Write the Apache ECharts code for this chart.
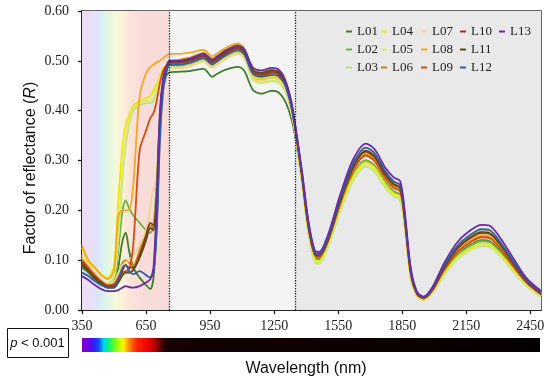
<!DOCTYPE html>
<html><head><meta charset="utf-8">
<script src="https://cdn.jsdelivr.net/npm/echarts@6/dist/echarts.min.js"></script>
<style>html,body{margin:0;padding:0;background:#fff}#c{width:550px;height:380px}</style>
</head><body><div id="c"></div>
<script>
const wavelengths = [350,380,410,440,470,500,520,540,555,570,590,620,650,670,685,700,715,730,745,760,
 800,860,920,960,980,1020,1080,1110,1150,1190,1240,1270,1300,1330,1350,
 1380,1410,1440,1460,1500,1560,1620,1680,1720,1770,1810,1840,1860,
 1890,1920,1950,1990,2050,2110,2170,2220,2260,2310,2370,2430,2500];
const seriesNames = ['L01','L02','L03','L04','L05','L06','L07','L08','L09','L10','L11','L12','L13'];
const seriesColors = ['#3f7d2a','#6fb33e','#b8e27e','#f2e600','#d6ea6e','#c98512','#f1d48e','#f5a623','#d84a12','#8a3a1c','#5d4a14','#2f5fa6','#6b2aa6'];

const L01 = [0.085,0.075,0.062,0.052,0.045,0.048,0.085,0.14,0.155,0.12,0.085,0.065,0.05,0.042,0.065,0.17,0.35,0.44,0.47,0.477,
 0.478,0.480,0.484,0.468,0.473,0.482,0.488,0.480,0.442,0.434,0.440,0.437,0.420,0.385,0.345,
 0.262,0.162,0.105,0.102,0.132,0.208,0.271,0.300,0.290,0.257,0.238,0.231,0.181,
 0.069,0.029,0.022,0.037,0.079,0.112,0.131,0.140,0.138,0.118,0.085,0.053,0.029];
const L02 = [0.09,0.078,0.065,0.055,0.048,0.055,0.12,0.2,0.22,0.205,0.19,0.175,0.16,0.155,0.17,0.26,0.38,0.45,0.48,0.49,
 0.490,0.495,0.503,0.491,0.496,0.508,0.518,0.510,0.468,0.462,0.466,0.463,0.446,0.404,0.356,
 0.264,0.162,0.104,0.101,0.131,0.207,0.271,0.300,0.290,0.257,0.238,0.231,0.181,
 0.068,0.029,0.022,0.036,0.078,0.111,0.129,0.138,0.136,0.116,0.084,0.053,0.029];
const L03 = [0.10,0.085,0.07,0.058,0.052,0.065,0.14,0.27,0.33,0.37,0.40,0.41,0.415,0.415,0.42,0.44,0.465,0.48,0.486,0.487,
 0.487,0.492,0.500,0.488,0.493,0.505,0.515,0.506,0.463,0.456,0.460,0.457,0.441,0.399,0.352,
 0.258,0.155,0.096,0.093,0.124,0.198,0.260,0.288,0.278,0.246,0.228,0.221,0.173,
 0.063,0.027,0.020,0.034,0.072,0.103,0.120,0.128,0.126,0.108,0.077,0.049,0.027];
const L04 = [0.125,0.095,0.085,0.072,0.065,0.09,0.22,0.33,0.37,0.39,0.41,0.42,0.425,0.43,0.44,0.455,0.47,0.485,0.49,0.492,
 0.492,0.497,0.504,0.492,0.497,0.509,0.519,0.511,0.470,0.464,0.469,0.466,0.449,0.406,0.356,
 0.262,0.160,0.102,0.098,0.128,0.204,0.267,0.296,0.286,0.253,0.234,0.228,0.178,
 0.066,0.028,0.021,0.035,0.075,0.107,0.124,0.133,0.131,0.112,0.081,0.051,0.028];
const L05 = [0.105,0.088,0.072,0.06,0.055,0.07,0.15,0.28,0.34,0.375,0.405,0.415,0.42,0.42,0.425,0.445,0.47,0.482,0.486,0.487,
 0.486,0.491,0.499,0.487,0.492,0.504,0.514,0.505,0.462,0.455,0.459,0.456,0.440,0.398,0.352,
 0.260,0.157,0.098,0.095,0.125,0.200,0.262,0.290,0.280,0.248,0.229,0.223,0.174,
 0.064,0.027,0.021,0.034,0.074,0.104,0.121,0.130,0.128,0.109,0.079,0.050,0.027];
const L06 = [0.10,0.085,0.07,0.058,0.05,0.05,0.07,0.095,0.10,0.095,0.09,0.12,0.155,0.17,0.165,0.25,0.39,0.46,0.485,0.50,
 0.502,0.507,0.516,0.504,0.509,0.521,0.532,0.524,0.483,0.477,0.482,0.479,0.460,0.415,0.364,
 0.268,0.168,0.110,0.107,0.136,0.215,0.281,0.312,0.301,0.266,0.247,0.240,0.188,
 0.073,0.031,0.024,0.039,0.084,0.119,0.139,0.149,0.147,0.125,0.090,0.057,0.031];
const L07 = [0.11,0.09,0.075,0.06,0.052,0.055,0.075,0.09,0.095,0.10,0.11,0.13,0.16,0.21,0.245,0.25,0.33,0.44,0.475,0.485,
 0.485,0.490,0.498,0.486,0.491,0.503,0.514,0.506,0.466,0.460,0.465,0.462,0.445,0.402,0.355,
 0.275,0.175,0.115,0.111,0.142,0.224,0.293,0.325,0.314,0.278,0.257,0.250,0.196,
 0.078,0.033,0.025,0.042,0.089,0.127,0.148,0.158,0.156,0.133,0.096,0.060,0.033];
const L08 = [0.13,0.10,0.085,0.07,0.062,0.08,0.19,0.20,0.20,0.20,0.25,0.43,0.475,0.488,0.492,0.497,0.50,0.505,0.51,0.514,
 0.514,0.517,0.522,0.509,0.514,0.525,0.535,0.526,0.482,0.475,0.479,0.476,0.457,0.412,0.362,
 0.270,0.170,0.112,0.108,0.138,0.218,0.285,0.315,0.305,0.270,0.250,0.243,0.190,
 0.074,0.032,0.024,0.040,0.085,0.120,0.140,0.150,0.148,0.126,0.091,0.057,0.032];
const L09 = [0.10,0.085,0.07,0.058,0.05,0.052,0.065,0.075,0.078,0.08,0.13,0.32,0.36,0.385,0.395,0.42,0.455,0.48,0.49,0.495,
 0.495,0.500,0.508,0.496,0.501,0.513,0.524,0.516,0.476,0.470,0.475,0.472,0.454,0.410,0.360,
 0.268,0.167,0.110,0.106,0.135,0.214,0.280,0.310,0.299,0.265,0.245,0.238,0.186,
 0.072,0.031,0.023,0.038,0.083,0.117,0.136,0.146,0.144,0.123,0.088,0.056,0.031];
const L10 = [0.095,0.08,0.066,0.055,0.048,0.048,0.06,0.08,0.09,0.085,0.085,0.11,0.15,0.175,0.17,0.23,0.38,0.46,0.485,0.497,
 0.497,0.502,0.510,0.498,0.503,0.515,0.526,0.518,0.479,0.473,0.478,0.475,0.457,0.413,0.363,
 0.273,0.172,0.114,0.110,0.140,0.221,0.289,0.320,0.309,0.274,0.253,0.246,0.193,
 0.076,0.033,0.025,0.041,0.088,0.124,0.145,0.155,0.153,0.131,0.094,0.059,0.033];
const L11 = [0.09,0.078,0.064,0.052,0.045,0.045,0.055,0.07,0.075,0.075,0.08,0.105,0.14,0.165,0.16,0.22,0.37,0.455,0.485,0.499,
 0.499,0.504,0.513,0.501,0.506,0.518,0.529,0.521,0.482,0.476,0.481,0.478,0.460,0.416,0.365,
 0.272,0.171,0.113,0.109,0.139,0.219,0.287,0.318,0.307,0.272,0.252,0.245,0.192,
 0.077,0.033,0.025,0.041,0.088,0.125,0.146,0.156,0.154,0.131,0.094,0.060,0.034];
const L12 = [0.075,0.068,0.058,0.05,0.045,0.045,0.06,0.085,0.09,0.078,0.072,0.078,0.07,0.065,0.075,0.16,0.34,0.44,0.475,0.492,
 0.492,0.497,0.505,0.493,0.498,0.510,0.521,0.513,0.474,0.468,0.472,0.469,0.452,0.409,0.360,
 0.276,0.176,0.116,0.112,0.143,0.225,0.294,0.326,0.315,0.279,0.258,0.251,0.197,
 0.080,0.034,0.026,0.043,0.092,0.130,0.151,0.162,0.160,0.136,0.098,0.062,0.035];
const L13 = [0.068,0.06,0.05,0.042,0.038,0.038,0.04,0.045,0.048,0.046,0.045,0.048,0.055,0.062,0.085,0.22,0.40,0.465,0.49,0.50,
 0.500,0.505,0.514,0.502,0.507,0.520,0.530,0.523,0.487,0.481,0.486,0.483,0.464,0.420,0.368,
 0.280,0.180,0.120,0.116,0.148,0.232,0.302,0.334,0.323,0.286,0.266,0.259,0.205,
 0.084,0.036,0.027,0.045,0.097,0.137,0.160,0.171,0.169,0.144,0.104,0.065,0.038];
const seriesValues = [L01,L02,L03,L04,L05,L06,L07,L08,L09,L10,L11,L12,L13];

const xTickLabels = [350,650,950,1250,1550,1850,2150,2450];
const yTickLabels = [0,0.1,0.2,0.3,0.4,0.5,0.6];
const regionBounds = [350,760,1350,2500];

const chart = echarts.init(document.getElementById('c'), null, {renderer:'canvas'});
const serif = 'Liberation Serif, Times New Roman, serif';
const sans = 'Liberation Sans, Arial, sans-serif';

const lineSeries = seriesNames.map((n,i)=>({
  name:n, type:'line', xAxisIndex:0, yAxisIndex:0,
  data: wavelengths.map((w,k)=>[w, seriesValues[i][k]]),
  showSymbol:false, symbol:'none', smooth:0.3,
  lineStyle:{width:1.8, color:seriesColors[i]}, itemStyle:{color:seriesColors[i]},
  z:3, silent:true
}));

const visGradient = {type:'linear',x:0,y:0,x2:1,y2:0,colorStops:[
  {offset:0,color:'#f0dcf0'},{offset:0.1,color:'#e8dff7'},{offset:0.18,color:'#dde5fa'},
  {offset:0.24,color:'#d9f2f4'},{offset:0.3,color:'#e3f6e2'},{offset:0.38,color:'#f2f8da'},
  {offset:0.45,color:'#fcf3d9'},{offset:0.55,color:'#fbe4da'},{offset:0.67,color:'#f9dcd9'},{offset:1,color:'#f7dcda'}]};

const bgSeries = {
  type:'line', name:'bg', data:[], xAxisIndex:0, yAxisIndex:0, z:1, silent:true,
  markArea:{silent:true, data:[
    [{xAxis:regionBounds[0], itemStyle:{color:visGradient}},{xAxis:regionBounds[1]}],
    [{xAxis:regionBounds[1], itemStyle:{color:'#f3f4f3'}},{xAxis:regionBounds[2]}],
    [{xAxis:regionBounds[2], itemStyle:{color:'#e8e9e8'}},{xAxis:regionBounds[3]}]
  ]},
  markLine:{silent:true, symbol:'none', label:{show:false},
    lineStyle:{type:'dotted', color:'#222', width:1.3},
    data:[{xAxis:regionBounds[1]},{xAxis:regionBounds[2]}]}
};

const specStops = [
  {offset:0,color:'#8000c8'},{offset:0.014,color:'#6a00e8'},{offset:0.026,color:'#2a20ff'},
  {offset:0.037,color:'#1050ff'},{offset:0.047,color:'#00d0ff'},{offset:0.056,color:'#00f090'},
  {offset:0.07,color:'#60ff20'},{offset:0.084,color:'#d0ff00'},{offset:0.091,color:'#ffee00'},
  {offset:0.098,color:'#ffb000'},{offset:0.109,color:'#ff6000'},{offset:0.121,color:'#ff2000'},
  {offset:0.144,color:'#f00000'},{offset:0.163,color:'#a00000'},{offset:0.177,color:'#300000'},
  {offset:0.191,color:'#150202'},{offset:1,color:'#050000'}];

const legendCommon = {orient:'vertical', itemGap:5, itemWidth:6, itemHeight:2, icon:'rect', selectedMode:false,
  textStyle:{fontFamily:serif, fontSize:13, color:'#222'}, padding:0};
const legendCols = [['L01','L02','L03'],['L04','L05','L06'],['L07','L08','L09'],['L10','L11','L12'],['L13']];
const legendLeft = [346,381,421,460,499];

chart.setOption({
  animation:false,
  grid:[{left:82,right:9,top:11,bottom:70,show:true,borderColor:'#333',borderWidth:1.5,backgroundColor:'transparent'},
        {left:82,right:10,top:338,height:14}],
  xAxis:[{type:'value',min:350,max:2500,gridIndex:0,
    axisLine:{lineStyle:{color:'#111',width:1.5}},
    axisTick:{show:true,length:4,lineStyle:{color:'#111',width:1.3},customValues:xTickLabels},
    axisLabel:{customValues:xTickLabels,fontFamily:serif,fontSize:14,color:'#222',margin:9,formatter:v=>String(v)},
    splitLine:{show:false}},
    {type:'value',min:350,max:2500,gridIndex:1,show:false}],
  yAxis:[{type:'value',min:0,max:0.6,interval:0.1,gridIndex:0,
    axisLine:{show:true,lineStyle:{color:'#111',width:1.5}},
    axisTick:{show:true,length:4,lineStyle:{color:'#111',width:1.3}},
    axisLabel:{fontFamily:serif,fontSize:14,color:'#222',margin:13,formatter:v=>v.toFixed(2)},
    splitLine:{show:false}},
    {type:'value',min:0,max:1,gridIndex:1,show:false}],
  legend: legendCols.map((d,i)=>Object.assign({},legendCommon,{left:legendLeft[i],top:25,data:d})),
  series:[bgSeries].concat(lineSeries),
  graphic:[
    {type:'rect',left:82,top:338,shape:{width:458,height:14},style:{fill:{type:'linear',x:0,y:0,x2:1,y2:0,colorStops:specStops}},silent:true},
    {type:'rect',left:7,top:328,shape:{width:61,height:29},style:{fill:'#fff',stroke:'#111',lineWidth:1},silent:true},
    {type:'text',x:37.5,y:343,style:{text:'{i|p} < 0.001',rich:{i:{fontStyle:'italic',fontFamily:sans,fontSize:13,fill:'#111'}},fontFamily:sans,fontSize:13,fill:'#111',align:'center',verticalAlign:'middle'}},
    {type:'text',x:306,y:369,style:{text:'Wavelength (nm)',fontFamily:sans,fontSize:16,fill:'#111',align:'center',verticalAlign:'middle'}},
    {type:'text',x:31,y:168,rotation:Math.PI/2,style:{text:'Factor of reflectance ({i|R})',rich:{i:{fontStyle:'italic',fontFamily:sans,fontSize:16,fill:'#111'}},fontFamily:sans,fontSize:16,fill:'#111',align:'center',verticalAlign:'middle'}},
    {type:'text',x:123,y:39,style:{text:'VIS\nPigments',fontFamily:sans,fontSize:13,lineHeight:14,fill:'#222',align:'center',verticalAlign:'middle'}},
    {type:'text',x:231,y:123,style:{text:'NIR\nStructures',fontFamily:sans,fontSize:13,lineHeight:15,fill:'#222',align:'center',verticalAlign:'middle'}},
    {type:'text',x:452,y:136,style:{text:'SWIR\nWater-structures',fontFamily:sans,fontSize:13,lineHeight:16,fill:'#222',align:'center',verticalAlign:'middle'}},
    {type:'text',x:370,y:218,style:{text:'SWIR1',fontFamily:sans,fontSize:13,fill:'#222',align:'center',verticalAlign:'middle'}},
    {type:'text',x:478,y:280,style:{text:'SWIR2',fontFamily:sans,fontSize:13,fill:'#222',align:'center',verticalAlign:'middle'}}
  ]
});
</script></body></html>
